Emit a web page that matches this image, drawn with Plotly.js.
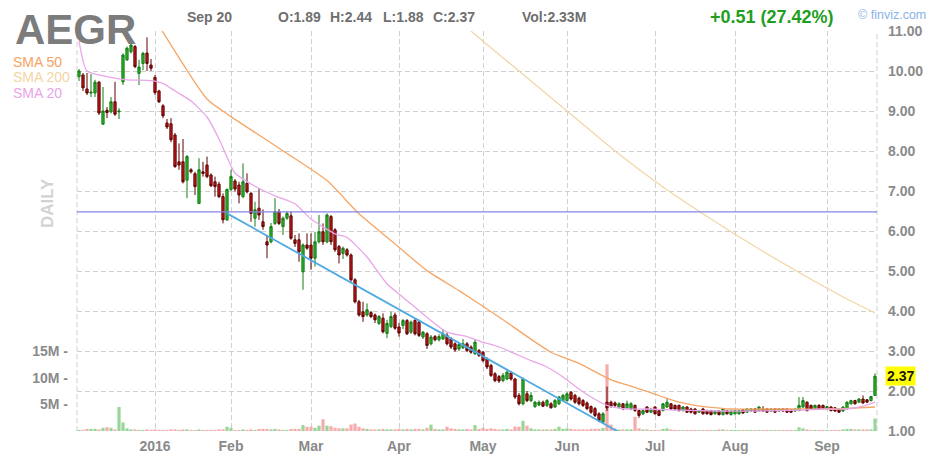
<!DOCTYPE html>
<html><head><meta charset="utf-8">
<script src="https://cdn.plot.ly/plotly-3.0.1.min.js"></script>
<style>html,body{margin:0;padding:0;background:#fff}#chart{width:948px;height:461px}</style>
</head><body><div id="chart"></div>
<script>
// ---- calendar (trading days Dec 4 2015 .. Sep 20 2016) ----
const holidays = ['2015-12-25','2016-01-01','2016-01-18','2016-02-15','2016-03-25','2016-05-30','2016-07-04','2016-09-05'];
function buildTradingDays(startISO, endISO){
  const out=[]; let d=new Date(startISO+'T00:00:00Z'); const end=new Date(endISO+'T00:00:00Z');
  while(d<=end){ const wd=d.getUTCDay(); const s=d.toISOString().slice(0,10);
    if(wd!==0 && wd!==6 && holidays.indexOf(s)<0) out.push(s);
    d=new Date(d.getTime()+86400000); }
  return out;
}
const dates = buildTradingDays('2015-12-04','2016-09-20');

const monthTickDates = ['2016-01-04','2016-02-01','2016-03-01','2016-04-01','2016-05-02','2016-06-01','2016-07-01','2016-08-01','2016-09-01'];
const monthTickText  = ['2016','Feb','Mar','Apr','May','Jun','Jul','Aug','Sep'];
const priceTicks = [1,2,3,4,5,6,7,8,9,10,11];
const volumeTicks = [5,10,15];

// ---- OHLC ----
const open = [
9.86,9.90,9.55,9.45,9.45,9.72,8.67,9.02,8.98,9.23,
8.98,9.73,10.28,10.48,10.61,9.94,10.19,10.45,10.15,9.84,
9.50,9.13,8.70,8.68,8.40,7.73,7.73,7.27,7.53,7.43,
6.69,7.48,7.65,7.40,7.23,7.17,6.86,6.28,7.04,7.25,
7.15,6.86,7.19,6.94,6.32,6.57,6.23,5.73,5.73,6.19,
6.48,6.11,6.32,6.38,5.78,5.78,4.98,5.65,5.65,5.32,
5.73,5.98,5.73,6.36,6.03,5.61,5.44,5.53,5.40,4.78,
4.23,3.98,3.90,3.96,3.90,3.69,3.82,3.44,3.61,3.90,
3.60,3.64,3.76,3.47,3.76,3.72,3.35,3.43,3.18,3.36,
3.28,3.30,3.39,3.30,3.18,3.05,3.08,3.18,3.10,2.93,
3.01,2.97,2.80,2.64,2.43,2.36,2.26,2.30,2.45,2.30,
1.89,1.68,1.93,1.76,1.61,1.65,1.72,1.64,1.68,1.60,
1.68,1.76,1.76,1.97,1.89,1.82,1.76,1.70,1.61,1.56,
1.43,1.22,1.72,1.72,1.70,1.60,1.68,1.58,1.55,1.64,
1.51,1.43,1.60,1.47,1.60,1.51,1.51,1.60,1.68,1.64,
1.64,1.51,1.60,1.55,1.55,1.47,1.55,1.51,1.51,1.43,
1.50,1.41,1.51,1.41,1.43,1.43,1.53,1.47,1.50,1.55,
1.50,1.55,1.55,1.50,1.55,1.50,1.55,1.55,1.53,1.50,
1.51,1.60,1.72,1.64,1.55,1.64,1.64,1.55,1.60,1.58,
1.55,1.50,1.55,1.68,1.76,1.72,1.80,1.78,1.76,1.89];
const high = [
10.05,9.95,9.95,9.92,9.78,9.75,9.60,9.10,9.35,9.73,
9.07,10.44,10.61,10.70,10.65,10.28,10.48,10.84,10.30,9.90,
9.53,9.17,8.80,8.82,8.45,8.19,8.30,7.90,7.57,7.48,
7.82,7.73,7.86,7.44,7.36,7.23,6.94,7.06,7.53,7.30,
7.23,7.69,7.44,6.98,6.73,7.07,6.54,5.90,6.20,6.82,
6.55,6.36,6.50,6.48,5.90,5.94,5.69,5.94,5.94,5.98,
6.40,6.19,6.44,6.40,6.07,5.65,5.61,5.57,5.44,4.82,
4.28,4.23,4.19,4.00,3.94,3.90,3.94,3.78,3.98,3.96,
3.70,3.80,3.80,3.76,3.80,3.78,3.50,3.47,3.40,3.40,
3.42,3.55,3.45,3.35,3.22,3.20,3.30,3.22,3.14,3.30,
3.05,3.00,2.84,2.68,2.47,2.40,2.45,2.52,2.50,2.33,
1.95,2.34,2.00,1.97,1.75,1.76,1.76,1.80,1.72,1.80,
1.88,1.93,1.97,2.00,1.93,1.86,1.80,1.74,1.64,1.60,
1.47,1.47,2.11,1.76,1.74,1.72,1.70,1.76,1.72,1.66,
1.53,1.54,1.62,1.58,1.62,1.53,1.70,1.80,1.70,1.66,
1.66,1.62,1.62,1.58,1.57,1.53,1.58,1.53,1.53,1.52,
1.52,1.57,1.53,1.52,1.53,1.53,1.55,1.57,1.57,1.57,
1.62,1.62,1.57,1.57,1.57,1.57,1.57,1.57,1.55,1.57,
1.85,1.85,1.74,1.66,1.66,1.67,1.66,1.63,1.62,1.60,
1.57,1.62,1.74,1.78,1.78,1.82,1.89,1.80,1.88,2.44];
const low = [
9.75,9.50,9.40,9.35,9.35,8.90,8.65,8.82,8.94,8.88,
8.80,9.65,10.25,10.44,10.07,9.65,10.02,10.00,10.00,9.40,
9.20,8.82,8.55,8.22,7.58,7.53,7.19,6.82,7.44,6.90,
6.67,7.36,7.32,7.10,6.86,6.82,6.19,6.25,7.00,6.98,
6.69,6.82,6.94,6.23,6.11,6.28,6.03,5.32,5.69,6.15,
6.15,5.90,6.28,5.78,5.60,5.23,4.53,5.53,5.03,5.11,
5.69,5.65,5.69,5.65,5.48,5.19,5.30,5.36,4.73,4.19,
3.86,3.73,3.86,3.82,3.70,3.65,3.44,3.32,3.57,3.53,
3.36,3.55,3.40,3.43,3.39,3.35,3.30,3.05,3.14,3.24,
3.24,3.28,3.14,3.05,2.98,3.00,3.05,2.97,2.93,2.90,
2.85,2.72,2.55,2.35,2.22,2.20,2.22,2.27,2.26,1.80,
1.64,1.64,1.72,1.72,1.58,1.62,1.60,1.60,1.56,1.58,
1.65,1.74,1.74,1.76,1.68,1.64,1.60,1.52,1.43,1.35,
1.22,1.20,1.50,1.58,1.60,1.57,1.52,1.55,1.52,1.48,
1.33,1.40,1.45,1.45,1.41,1.37,1.49,1.58,1.53,1.52,
1.49,1.49,1.45,1.44,1.41,1.45,1.41,1.41,1.39,1.41,
1.39,1.39,1.41,1.39,1.41,1.41,1.43,1.45,1.48,1.45,
1.48,1.48,1.45,1.48,1.45,1.48,1.48,1.45,1.45,1.48,
1.50,1.58,1.49,1.53,1.53,1.53,1.53,1.53,1.49,1.48,
1.45,1.48,1.53,1.66,1.66,1.70,1.68,1.70,1.74,1.88];
const close = [
10.00,9.58,9.45,9.47,9.72,8.95,9.00,8.96,9.23,8.92,
9.00,10.40,10.57,10.65,10.11,10.10,10.44,10.19,10.07,9.46,
9.23,8.88,8.60,8.28,7.61,7.65,7.23,7.86,7.48,7.11,
7.53,7.44,7.36,7.13,7.11,6.86,6.28,7.04,7.36,7.05,
6.90,7.23,6.98,6.44,6.53,6.40,6.11,5.65,6.11,6.48,
6.19,6.32,6.44,5.82,5.69,5.48,5.65,5.57,5.32,5.73,
5.98,5.73,6.40,5.73,5.53,5.40,5.57,5.40,4.78,4.23,
3.90,3.86,4.03,3.86,3.78,3.86,3.48,3.69,3.86,3.57,
3.45,3.76,3.43,3.72,3.43,3.39,3.47,3.14,3.35,3.28,
3.36,3.43,3.18,3.10,3.03,3.16,3.18,3.01,2.97,3.22,
2.89,2.76,2.60,2.39,2.26,2.25,2.39,2.47,2.30,1.85,
1.68,2.30,1.76,1.89,1.72,1.72,1.62,1.76,1.58,1.76,
1.85,1.89,1.93,1.80,1.72,1.68,1.64,1.56,1.47,1.39,
1.26,1.43,1.58,1.62,1.64,1.68,1.56,1.68,1.68,1.51,
1.39,1.51,1.47,1.55,1.43,1.39,1.68,1.72,1.55,1.55,
1.51,1.60,1.47,1.47,1.43,1.50,1.43,1.43,1.41,1.50,
1.41,1.55,1.43,1.50,1.51,1.51,1.45,1.55,1.55,1.47,
1.60,1.50,1.47,1.55,1.47,1.55,1.50,1.47,1.47,1.55,
1.64,1.76,1.51,1.55,1.64,1.55,1.55,1.61,1.51,1.50,
1.47,1.60,1.72,1.76,1.68,1.80,1.70,1.72,1.86,2.37];
// volume, millions of shares
const volume = [
0.2,0.2,0.4,0.4,0.4,0.3,0.6,0.7,0.6,0.3,
4.5,1.6,0.5,0.3,0.3,0.2,0.2,0.3,0.2,0.3,
0.2,0.2,0.2,0.3,0.3,0.2,0.3,0.3,0.2,0.2,
0.3,0.2,0.2,0.2,0.2,0.3,0.3,0.8,0.6,0.2,
0.2,0.3,0.2,0.3,0.2,0.4,0.4,0.4,0.3,0.4,
0.3,0.2,0.2,0.4,0.4,0.4,1.1,0.8,0.8,0.6,
1.0,2.2,1.0,0.9,0.6,0.5,0.5,0.5,1.2,1.4,
0.8,0.5,0.4,0.3,0.3,0.3,0.4,0.3,0.3,0.3,
0.4,0.3,0.4,0.3,0.4,0.4,0.3,0.6,1.2,0.4,
0.3,0.3,0.8,0.5,0.4,0.3,0.3,0.4,0.3,1.1,
0.4,0.6,0.4,0.5,0.4,0.3,0.3,0.4,0.3,0.85,
0.8,1.9,1.0,0.5,0.3,0.3,0.3,0.3,0.3,0.4,
0.8,0.4,0.5,0.4,0.3,0.3,0.3,0.3,0.4,0.4,
0.4,0.6,12.5,1.2,0.5,0.3,0.3,0.3,0.3,2.65,
0.5,0.3,0.3,0.2,0.2,0.2,0.4,0.5,0.3,0.2,
0.2,0.2,0.2,0.2,0.2,0.2,0.2,0.2,0.2,0.2,
0.3,0.3,0.2,0.2,0.2,0.2,0.2,0.2,0.2,0.2,
0.2,0.2,0.2,0.2,0.2,0.2,0.2,0.2,0.2,0.2,
0.7,0.5,0.3,0.2,0.2,0.2,0.2,0.2,0.2,0.2,
0.2,0.3,0.4,0.4,0.3,0.3,0.3,0.3,0.3,2.33];

// ---- moving averages, read at points (bar index, value) ----
const sma20Idx = [0,2,7,12,18,21,24,28,32,35,37,39,44,49,54,58,64,67,72,77,83,87,92,97,101,105,113,117,121,125,128,132,137,142,150,160,170,180,186,192,196,199];
const sma20Val = [10.75,10.0,9.86,9.78,9.76,9.69,9.5,9.25,8.85,8.3,7.85,7.45,7.12,6.88,6.68,6.3,5.93,5.84,5.35,4.68,4.18,3.84,3.47,3.36,3.22,3.1,2.76,2.6,2.35,2.05,1.85,1.64,1.55,1.55,1.52,1.5,1.5,1.52,1.55,1.55,1.62,1.72];
const sma50Idx = [19,21,32,38,50,62,70,78,87,95,105,118,125,133,138,142,146,150,154,158,163,171,180,188,199];
const sma50Val = [11.3,10.97,9.3,8.86,8.07,7.26,6.43,5.76,5.01,4.51,3.85,2.97,2.69,2.28,2.12,1.99,1.85,1.72,1.64,1.59,1.55,1.55,1.55,1.55,1.6];
const sma200Idx = [96,98,110,122,134,146,158,170,182,192,199];
const sma200Val = [11.2,11.0,10.0,9.0,8.0,7.1,6.3,5.55,4.85,4.3,3.95];

const trendIdx = [37,135];
const trendVal = [6.44,0.97];
const hLevel = 6.48;

// ---- header texts ----
const ticker = 'AEGR';
const lastDate = 'Sep 20';
const ohlcText = ['O:1.89','H:2.44','L:1.88','C:2.37'];
const volText = 'Vol:2.33M';
const changeText = '+0.51 (27.42%)';
const lastPrice = 2.37;

const FONT = 'Liberation Sans, Arial, Helvetica, sans-serif';
const GRID = '#cfcfcf';
const DASH = '5px,3px';

const volColors = close.map((c,i)=> c>=open[i] ? '#97d697' : '#f5acac');

const traces = [
  {type:'bar', x:dates, y:volume, xaxis:'x', yaxis:'y', marker:{color:volColors, line:{width:0}}, hoverinfo:'skip'},
  {type:'candlestick', x:dates, open:open, high:high, low:low, close:close, xaxis:'x', yaxis:'y2',
   increasing:{line:{color:'#137a13', width:1}, fillcolor:'#2db42d'},
   decreasing:{line:{color:'#5e0000', width:1}, fillcolor:'#c01a1a'},
   whiskerwidth:0, hoverinfo:'skip'},
  {type:'scatter', mode:'lines', x:sma200Idx.map(i=>dates[i]), y:sma200Val, yaxis:'y2', line:{color:'#f2d7a8', width:1.3, shape:'spline', smoothing:0.6}, hoverinfo:'skip'},
  {type:'scatter', mode:'lines', x:sma50Idx.map(i=>dates[i]), y:sma50Val, yaxis:'y2', line:{color:'#f5a666', width:1.3, shape:'spline', smoothing:0.6}, hoverinfo:'skip'},
  {type:'scatter', mode:'lines', x:sma20Idx.map(i=>dates[i]), y:sma20Val, yaxis:'y2', line:{color:'#e9a6e9', width:1.3, shape:'spline', smoothing:0.6}, hoverinfo:'skip'},
  {type:'scatter', mode:'lines', x:trendIdx.map(i=>dates[i]), y:trendVal, yaxis:'y2', line:{color:'#4fa9e2', width:1.8}, hoverinfo:'skip'}
];

const L=77, R=877, T=31, B=431;
const px = v => (v-L)/(R-L);
const py = v => (B-v)/(B-T);
function txt(text, x, y, size, color, weight, extra){
  return Object.assign({text:text, xref:'paper', yref:'paper', x:px(x), y:py(y), xanchor:'left', yanchor:'middle', showarrow:false,
    font:{family:FONT, size:size, color:color, weight:weight||'normal'}}, extra||{});
}
const ohlcX = [278,330,383,433];
const annotations = [
  txt(ticker, 13, 29, 42, '#7c7c7c', 'bold'),
  txt(lastDate, 185, 17, 14, '#6f6f6f', 'bold'),
  ...ohlcText.map((t,k)=>txt(t, ohlcX[k]-2, 17, 14, '#6f6f6f', 'bold')),
  txt(volText, 520, 17, 14, '#6f6f6f', 'bold'),
  txt(changeText, 708, 16.5, 18, '#1f9e1f', 'bold'),
  txt('\u00a9 finviz.com', 856, 15, 12.5, '#8ab2e6', 'normal'),
  txt('SMA 50', 11, 61.5, 14, '#f5a262', 'normal'),
  txt('SMA 200', 11, 77, 14, '#f2d5a5', 'normal'),
  txt('SMA 20', 11, 92.5, 14, '#e8a4e8', 'normal'),
  txt('DAILY', 47, 203, 17, '#d2d2d2', 'bold', {xanchor:'center', textangle:-90}),
  {text:String(lastPrice.toFixed(2)), xref:'paper', yref:'y2', x:px(885), y:lastPrice, xanchor:'left', yanchor:'middle', showarrow:false,
   bgcolor:'#ffff00', borderpad:1, font:{family:FONT, size:14, color:'#1a1a1a', weight:'bold'}}
];

const shapes = [
  {type:'line', xref:'paper', yref:'paper', x0:0, x1:0, y0:0, y1:1, line:{color:GRID, width:1, dash:DASH}, layer:'below'},
  {type:'line', xref:'paper', yref:'paper', x0:1, x1:1, y0:0, y1:1, line:{color:GRID, width:1, dash:DASH}, layer:'below'},
  {type:'line', xref:'paper', yref:'y2', x0:0, x1:1, y0:hLevel, y1:hLevel, line:{color:'#8585e8', width:1.2}, layer:'above'}
];

const tickFont = {family:FONT, size:14, color:'#8a8a8a', weight:'bold'};
const layout = {
  width:948, height:461,
  margin:{l:L, r:948-R, t:T, b:461-B, pad:0},
  paper_bgcolor:'#ffffff', plot_bgcolor:'#ffffff',
  showlegend:false, bargap:0.2, boxgap:0.2,
  xaxis:{type:'category', range:[-0.5, dates.length-0.5], tickvals:monthTickDates, ticktext:monthTickText,
    showgrid:true, gridcolor:GRID, griddash:DASH, gridwidth:1, zeroline:false, showline:false, ticks:'',
    tickfont:tickFont, ticklabelstandoff:5, rangeslider:{visible:false}, fixedrange:true},
  yaxis:{range:[0,75], side:'left', tickvals:volumeTicks, ticktext:volumeTicks.map(v=>v+'M -'),
    showgrid:false, zeroline:false, showline:false, ticks:'', tickfont:tickFont, ticklabelstandoff:8, fixedrange:true},
  yaxis2:{overlaying:'y', side:'right', anchor:'x', range:[1,11], tickvals:priceTicks, ticktext:priceTicks.map(v=>v.toFixed(2)),
    showgrid:true, gridcolor:GRID, griddash:DASH, gridwidth:1, zeroline:false, showline:false, ticks:'',
    tickfont:tickFont, ticklabelstandoff:10, fixedrange:true},
  annotations:annotations, shapes:shapes
};

Plotly.newPlot('chart', traces, layout, {staticPlot:true, displayModeBar:false});
</script></body></html>
